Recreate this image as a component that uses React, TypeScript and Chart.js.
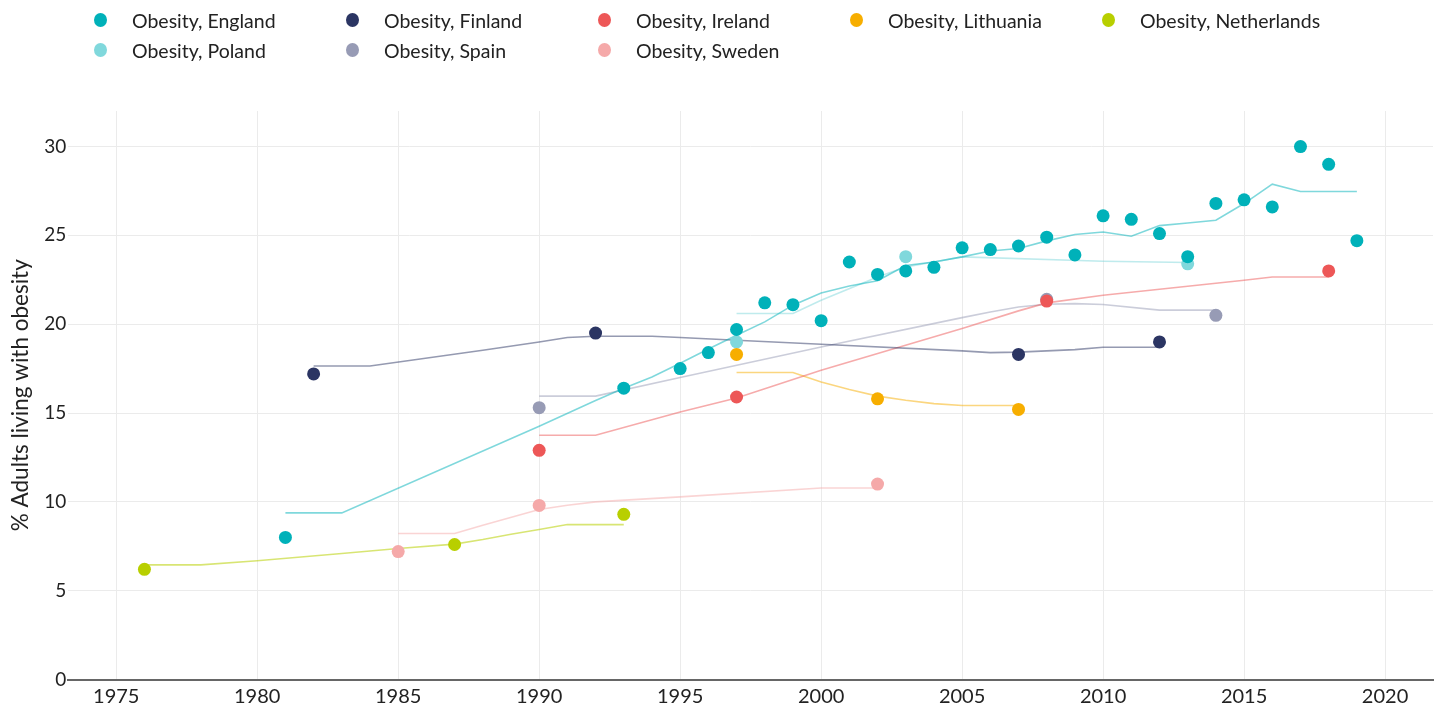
import React, { useEffect, useRef } from "react";
import { Chart, registerables } from "chart.js";

Chart.register(...registerables);

const FONT = "Lato, 'Noto Sans', sans-serif";

// ---- categories / series ----
const countries = ["England", "Finland", "Ireland", "Lithuania", "Netherlands", "Poland", "Spain", "Sweden"];
const pointColors = ["#00b1b9", "#2b3563", "#ed5757", "#f7ae00", "#b8cf00", "#80d8dc", "#979bb5", "#f5a9a9"];
const trendColors = [
  "rgba(0,177,185,0.5)",
  "rgba(43,53,99,0.5)",
  "rgba(237,87,87,0.5)",
  "rgba(247,174,0,0.5)",
  "rgba(184,207,0,0.55)",
  "rgba(128,216,220,0.5)",
  "rgba(151,155,181,0.5)",
  "rgba(245,169,169,0.5)",
];

// ---- survey points ----
const englandYears = [1981, 1993, 1995, 1996, 1997, 1998, 1999, 2000, 2001, 2002, 2003, 2004, 2005, 2006, 2007, 2008, 2009, 2010, 2011, 2012, 2013, 2014, 2015, 2016, 2017, 2018, 2019];
const englandValues = [8.0, 16.4, 17.5, 18.4, 19.7, 21.2, 21.1, 20.2, 23.5, 22.8, 23.0, 23.2, 24.3, 24.2, 24.4, 24.9, 23.9, 26.1, 25.9, 25.1, 23.8, 26.8, 27.0, 26.6, 30.0, 29.0, 24.7];
const finlandYears = [1982, 1992, 2007, 2012];
const finlandValues = [17.2, 19.5, 18.3, 19.0];
const irelandYears = [1990, 1997, 2008, 2018];
const irelandValues = [12.9, 15.9, 21.3, 23.0];
const lithuaniaYears = [1997, 2002, 2007];
const lithuaniaValues = [18.3, 15.8, 15.2];
const netherlandsYears = [1976, 1987, 1993];
const netherlandsValues = [6.2, 7.6, 9.3];
const polandYears = [1997, 2003, 2013];
const polandValues = [19.0, 23.8, 23.4];
const spainYears = [1990, 2008, 2014];
const spainValues = [15.3, 21.4, 20.5];
const swedenYears = [1985, 1990, 2002];
const swedenValues = [7.2, 9.8, 11.0];

// ---- trend lines (vertices) ----
const englandTrendYears = [1981, 1983, 1990, 1992, 1993, 1994, 1995, 1996, 1997, 1998, 1999, 2000, 2001, 2002, 2003, 2004, 2005, 2006, 2007, 2008, 2009, 2010, 2011, 2012, 2013, 2014, 2015, 2016, 2017, 2019];
const englandTrendValues = [9.38, 9.38, 14.26, 15.7, 16.4, 17.03, 17.8, 18.6, 19.38, 20.13, 21.07, 21.76, 22.15, 22.45, 23.3, 23.5, 23.79, 24.12, 24.26, 24.69, 25.05, 25.19, 24.95, 25.55, 25.7, 25.85, 26.79, 27.88, 27.47, 27.47];
const finlandTrendYears = [1982, 1984, 1988, 1990, 1991, 1992, 1994, 1995, 1997, 2000, 2005, 2006, 2007, 2009, 2010, 2012];
const finlandTrendValues = [17.65, 17.65, 18.53, 19.0, 19.25, 19.32, 19.32, 19.25, 19.1, 18.87, 18.5, 18.4, 18.43, 18.57, 18.7, 18.7];
const irelandTrendYears = [1990, 1992, 1995, 1997, 2000, 2005, 2007, 2008, 2010, 2015, 2016, 2018];
const irelandTrendValues = [13.75, 13.75, 15.06, 15.85, 17.41, 19.76, 20.75, 21.2, 21.63, 22.47, 22.66, 22.66];
const lithuaniaTrendYears = [1997, 1999, 2000, 2001, 2002, 2003, 2004, 2005, 2007];
const lithuaniaTrendValues = [17.28, 17.28, 16.75, 16.32, 15.95, 15.72, 15.53, 15.42, 15.42];
const netherlandsTrendYears = [1976, 1978, 1980, 1983, 1985, 1987, 1988, 1989, 1990, 1991, 1993];
const netherlandsTrendValues = [6.45, 6.45, 6.68, 7.09, 7.37, 7.62, 7.88, 8.18, 8.44, 8.72, 8.72];
const polandTrendYears = [1997, 1999, 2000, 2002, 2003, 2005, 2010, 2013];
const polandTrendValues = [20.6, 20.6, 21.35, 22.66, 23.22, 23.79, 23.54, 23.47];
const spainTrendYears = [1990, 1992, 1995, 2000, 2005, 2006, 2007, 2008, 2009, 2010, 2012, 2014];
const spainTrendValues = [15.95, 15.95, 17.0, 18.72, 20.37, 20.69, 20.97, 21.12, 21.16, 21.11, 20.79, 20.79];
const swedenTrendYears = [1985, 1987, 1988, 1990, 1991, 1992, 1995, 2000, 2002];
const swedenTrendValues = [8.22, 8.22, 8.68, 9.57, 9.81, 10.0, 10.28, 10.78, 10.78];

// ---- axes ----
const xTickLabels = ["1975", "1980", "1985", "1990", "1995", "2000", "2005", "2010", "2015", "2020"];
const yTickLabels = ["0", "5", "10", "15", "20", "25", "30"];
const yTitle = "% Adults living with obesity";

const pointYears = [englandYears, finlandYears, irelandYears, lithuaniaYears, netherlandsYears, polandYears, spainYears, swedenYears];
const pointValues = [englandValues, finlandValues, irelandValues, lithuaniaValues, netherlandsValues, polandValues, spainValues, swedenValues];
const trendYears = [englandTrendYears, finlandTrendYears, irelandTrendYears, lithuaniaTrendYears, netherlandsTrendYears, polandTrendYears, spainTrendYears, swedenTrendYears];
const trendValues = [englandTrendValues, finlandTrendValues, irelandTrendValues, lithuaniaTrendValues, netherlandsTrendValues, polandTrendValues, spainTrendValues, swedenTrendValues];

const zip = (xs: number[], ys: number[]) => xs.map((x, i) => ({ x, y: ys[i] }));

export default function App() {
  const ref = useRef<HTMLCanvasElement | null>(null);

  useEffect(() => {
    document.body.style.margin = "0";
    document.body.style.overflow = "hidden";
    const canvas = ref.current;
    if (!canvas) return;

    const pointSets = countries.map((c, i) => ({
      label: "Obesity, " + c,
      type: "scatter" as const,
      data: zip(pointYears[i], pointValues[i]),
      backgroundColor: pointColors[i],
      borderColor: pointColors[i],
      borderWidth: 0,
      pointRadius: 6.5,
      showLine: false,
      order: 0,
    }));
    const trendSets = countries.map((c, i) => ({
      label: "Trend, " + c,
      type: "line" as const,
      data: zip(trendYears[i], trendValues[i]),
      borderColor: trendColors[i],
      backgroundColor: trendColors[i],
      borderWidth: 1.6,
      pointRadius: 0,
      tension: 0,
      fill: false,
      order: 1,
    }));

    const chart = new Chart(canvas, {
      type: "scatter",
      data: { datasets: [...pointSets, ...trendSets] as any },
      options: {
        animation: false,
        responsive: false,
        layout: { padding: { top: 111, right: 7, left: 0, bottom: 0 } },
        plugins: { legend: { display: false }, tooltip: { enabled: false } },
        scales: {
          x: {
            type: "linear",
            min: 1973.3,
            max: 2021.7,
            afterFit: (s: any) => { s.height = 29.5; },
            afterBuildTicks: (s: any) => { s.ticks = xTickLabels.map((t) => ({ value: Number(t) })); },
            ticks: {
              stepSize: 5,
              includeBounds: false,
              padding: 5,
              color: "#222",
              font: { family: FONT, size: 20 },
              callback: (v: any) => String(v),
              maxRotation: 0,
            },
            grid: { color: "#ebebeb", lineWidth: 1, drawTicks: false },
            border: { display: true, color: "#666", width: 2 },
          },
          y: {
            type: "linear",
            min: 0,
            max: 32,
            afterFit: (s: any) => { s.width = 68.3; },
            afterBuildTicks: (s: any) => { s.ticks = yTickLabels.map((t) => ({ value: Number(t) })); },
            ticks: {
              stepSize: 5,
              includeBounds: false,
              padding: 2,
              color: "#222",
              font: { family: FONT, size: 19 },
              callback: (v: any) => String(v),
            },
            grid: { color: "#ebebeb", lineWidth: 1, drawTicks: false },
            border: { display: false },
            title: {
              display: true,
              text: yTitle,
              color: "#222",
              font: { family: FONT, size: 22.5 },
              padding: { top: 7, bottom: 0 },
            },
          },
        },
      } as any,
    });
    return () => chart.destroy();
  }, []);

  return (
    <div style={{ position: "relative", width: 1440, height: 709, overflow: "hidden", background: "#fff" }}>
      <canvas ref={ref} width={1440} height={709} style={{ position: "absolute", left: 0, top: 0 }} />
      {countries.map((c, i) => {
        const col = i % 5;
        const row = Math.floor(i / 5);
        return (
          <div
            key={c}
            style={{
              position: "absolute",
              left: 94 + col * 252,
              top: 20 + row * 30 - 12,
              height: 24,
              display: "flex",
              alignItems: "center",
              fontFamily: FONT,
              fontSize: 19.5,
              color: "#222",
              whiteSpace: "nowrap",
            }}
          >
            <span
              style={{
                display: "inline-block",
                width: 13,
                height: 14,
                borderRadius: "50%",
                background: pointColors[i],
                marginRight: 25,
              }}
            />
            <span>{"Obesity, " + c}</span>
          </div>
        );
      })}
    </div>
  );
}
